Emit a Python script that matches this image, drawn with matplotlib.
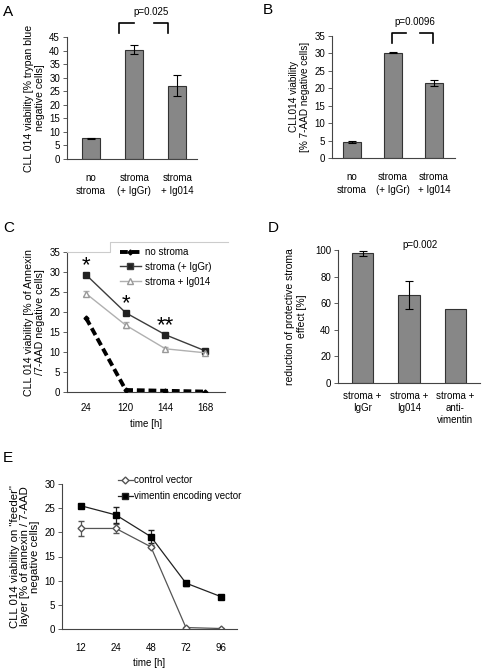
import numpy as np
import matplotlib
matplotlib.use("Agg")
import matplotlib.pyplot as plt
from matplotlib.lines import Line2D

plt.rcParams['font.family'] = ['Liberation Sans', 'DejaVu Sans']
plt.rcParams['font.size'] = 7

# panel A
a_cats = ["no\nstroma", "stroma\n(+ IgGr)", "stroma\n+ Ig014"]
a_vals = [7.6, 40.3, 27.0]
a_err = [0.3, 1.6, 3.8]
# panel B
b_cats = ["no\nstroma", "stroma\n(+ IgGr)", "stroma\n+ Ig014"]
b_vals = [4.6, 30.2, 21.5]
b_err = [0.4, 0.1, 0.8]
# panel C
c_times = ["24", "120", "144", "168"]
c_nostroma = [18.5, 0.5, 0.3, 0.1]
c_iggr = [29.3, 19.8, 14.3, 10.3]
c_iggr_err = [0.4, 0.3, 0.3, 0.3]
c_ig014 = [24.6, 16.7, 10.8, 9.8]
c_ig014_err = [0.6, 0.7, 0.4, 0.3]
c_stars = ["*", "*", "**", ""]
# panel D
d_cats = ["stroma +\nIgGr", "stroma +\nIg014", "stroma +\nanti-\nvimentin"]
d_vals = [97.5, 66.5, 55.5]
d_err = [2.0, 10.5, 0.0]
# panel E
e_times = ["12", "24", "48", "72", "96"]
e_control = [20.8, 20.8, 17.0, 0.3, 0.1]
e_control_err = [1.6, 1.0, 0.3, 0.1, 0.1]
e_vim = [25.5, 23.6, 19.1, 9.5, 6.7]
e_vim_err = [0.2, 1.6, 1.3, 0.5, 0.3]

bar_color = "#878787"
W, H = 484, 669
fig = plt.figure(figsize=(W / 100, H / 100), dpi=100)


def px_axes(l, t, r, b):
    return fig.add_axes([l / W, 1 - b / H, (r - l) / W, (b - t) / H])


def style(ax, xpad=6):
    ax.spines["top"].set_visible(False)
    ax.spines["right"].set_visible(False)
    ax.spines["left"].set_color("#444444")
    ax.spines["bottom"].set_color("#444444")
    ax.tick_params(axis="y", length=3, width=0.6, color="#444444", pad=2)
    ax.tick_params(axis="x", length=0, pad=xpad)


def bracket(ax, x0, x1, y, drop):
    ax.plot([x0, x0, x1], [y - drop, y, y], color="black", lw=1.2, clip_on=False)


def bracket_r(ax, x0, x1, y, drop):
    ax.plot([x0, x1, x1], [y, y, y - drop], color="black", lw=1.2, clip_on=False)


def panel_label(x, y, s):
    fig.text(x / W, 1 - y / H, s, fontsize=11, va="center", ha="left")


# ---- A
ax = px_axes(67, 37, 197, 159)
x = np.arange(len(a_cats))
ax.bar(x, a_vals, width=0.42, color=bar_color, edgecolor="#333333", lw=0.8,
       yerr=a_err, capsize=3, error_kw=dict(lw=0.8, capthick=0.8))
ax.set_xlim(-0.56, 2.46)
ax.set_ylim(0, 45)
ax.set_yticks(np.arange(0, 46, 5))
ax.set_xticks(x)
ax.set_xticklabels(a_cats, linespacing=1.4)
ax.set_ylabel("CLL 014 viability [% trypan blue\nnegative cells]", labelpad=3,
              fontsize=7.6)
style(ax, xpad=10)
bracket(ax, 0.65, 1.0, 50.2, 3.7)
bracket_r(ax, 1.45, 1.78, 50.2, 3.7)
ax.text(1.4, 54.2, "p=0.025", ha="center", va="center")
panel_label(3, 12, "A")

# ---- B
ax = px_axes(332, 36, 455, 158)
x = np.arange(len(b_cats))
ax.bar(x, b_vals, width=0.42, color=bar_color, edgecolor="#333333", lw=0.8,
       yerr=b_err, capsize=3, error_kw=dict(lw=0.8, capthick=0.8))
ax.set_xlim(-0.49, 2.51)
ax.set_ylim(0, 35)
ax.set_yticks(np.arange(0, 36, 5))
ax.set_xticks(x)
ax.set_xticklabels(b_cats, linespacing=1.4)
ax.set_ylabel("CLL014 viability\n[% 7-AAD negative cells]", labelpad=3,
              fontsize=7.2)
style(ax, xpad=10)
bracket(ax, 0.98, 1.32, 35.9, 2.9)
bracket_r(ax, 1.66, 1.98, 35.9, 2.9)
ax.text(1.54, 38.9, "p=0.0096", ha="center", va="center")
panel_label(263, 10, "B")

# ---- C
ax = px_axes(67, 252, 225, 392)
x = np.arange(len(c_times))
ax.plot(x, c_nostroma, color="black", lw=2.8, ls=(0, (2.0, 1.0)), marker="D",
        ms=2.5, zorder=3)
ax.errorbar(x, c_iggr, yerr=c_iggr_err, color="#3c3c3c", lw=1.0, marker="s",
            ms=4, mfc="#222222", mec="#222222", capsize=2)
ax.errorbar(x, c_ig014, yerr=c_ig014_err, color="#b0b0b0", lw=1.0, marker="^",
            ms=4, mfc="white", mec="#999999", capsize=2)
for xi, yi, s in zip(x, c_iggr, c_stars):
    if s:
        ax.text(xi, yi + 1.0, s, ha="center", va="baseline", fontsize=16)
ax.set_xlim(-0.48, 3.5)
ax.set_ylim(0, 35)
ax.set_yticks(np.arange(0, 36, 5))
ax.set_xticks(x)
ax.set_xticklabels(c_times)
ax.set_xlabel("time [h]", labelpad=4)
ax.set_ylabel("CLL 014 viability [% of Annexin\n/7-AAD negative cells]", labelpad=3,
              fontsize=7.7)
style(ax, xpad=8)
handles = [
    Line2D([], [], color="black", lw=2.8, ls=(0, (2.0, 1.0)), marker="D", ms=2.5),
    Line2D([], [], color="#3c3c3c", lw=1.0, marker="s", ms=4, mfc="#222222"),
    Line2D([], [], color="#b0b0b0", lw=1.0, marker="^", ms=4, mfc="white", mec="#999999"),
]
ax.legend(handles, ["no stroma", "stroma (+ IgGr)", "stroma + Ig014"],
          loc="upper left", bbox_to_anchor=(0.29, 1.085), frameon=False,
          handlelength=2.2, handletextpad=0.4, labelspacing=0.5,
          borderpad=0.2, fontsize=7)
# light plot-area border as in the spreadsheet original
fig.add_artist(Line2D([67 / W, 110 / W, 110 / W, 228 / W],
                      [1 - 252 / H, 1 - 252 / H, 1 - 242 / H, 1 - 242 / H],
                      color="#cccccc", lw=0.8))
panel_label(3, 228, "C")

# ---- D
ax = px_axes(338, 250, 480, 383)
x = np.arange(len(d_cats))
ax.bar(x, d_vals, width=0.46, color=bar_color, edgecolor="#333333", lw=0.8,
       yerr=[e if e > 0 else np.nan for e in d_err], capsize=3,
       error_kw=dict(lw=0.8, capthick=0.8))
ax.set_xlim(-0.53, 2.53)
ax.set_ylim(0, 100)
ax.set_yticks(np.arange(0, 101, 20))
ax.set_xticks(x)
ax.set_xticklabels(d_cats, linespacing=1.2, va="top")
ax.set_ylabel("reduction of protective stroma\neffect [%]", labelpad=6, fontsize=7.5)
style(ax, xpad=6)
ax.text(1.23, 103.7, "p=0.002", ha="center", va="center")
panel_label(268, 228, "D")

# ---- E
ax = px_axes(62, 484, 237, 629)
x = np.arange(len(e_times))
ax.errorbar(x, e_control, yerr=e_control_err, color="#555555", lw=0.9, marker="D",
            ms=3.5, mfc="white", mec="#555555", capsize=2)
ax.errorbar(x, e_vim, yerr=e_vim_err, color="#222222", lw=0.9, marker="s",
            ms=4.5, mfc="black", mec="black", capsize=2)
ax.set_xlim(-0.54, 4.46)
ax.set_ylim(0, 30)
ax.set_yticks(np.arange(0, 31, 5))
ax.set_xticks(x)
ax.set_xticklabels(e_times)
ax.set_xlabel("time [h]", labelpad=4)
ax.set_ylabel("CLL 014 viability on \"feeder\"\nlayer [% of annexin / 7-AAD\nnegative cells]",
              labelpad=3, fontsize=8.2, linespacing=1.0)
style(ax, xpad=10)
e_handles = [
    Line2D([], [], color="#555555", lw=0.9, marker="D", ms=3.5, mfc="white"),
    Line2D([], [], color="#222222", lw=0.9, marker="s", ms=4.5, mfc="black"),
]
ax.legend(e_handles, ["control vector", "vimentin encoding vector"],
          loc="upper left", bbox_to_anchor=(0.27, 1.12), frameon=False,
          handlelength=1.5, handletextpad=0.1, labelspacing=0.6, fontsize=7)
panel_label(3, 458, "E")

fig.savefig("out.png", dpi=100)
